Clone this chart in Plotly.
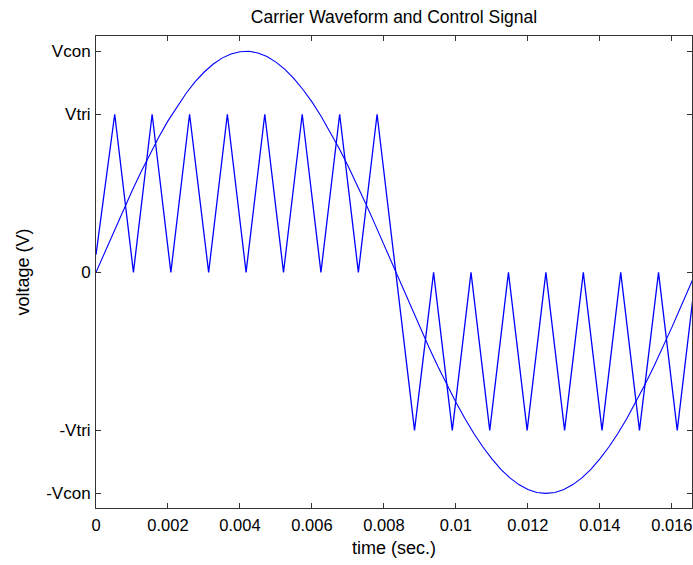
import plotly.graph_objects as go

# Levels (normalised so that Vcon = 1)
V_CON = 1.0
V_TRI = 0.715

sine_t = [i * 0.00025 for i in range(68)]
sine_v = [0.0, 0.094, 0.187, 0.279, 0.368, 0.454, 0.536, 0.613, 0.685, 0.750,
          0.809, 0.861, 0.905, 0.941, 0.969, 0.988, 0.998, 1.0, 0.992, 0.976,
          0.951, 0.918, 0.876, 0.827, 0.771, 0.707, 0.637, 0.562, 0.482, 0.397,
          0.309, 0.218, 0.125, 0.031, -0.063, -0.156, -0.249, -0.339, -0.426, -0.509,
          -0.588, -0.661, -0.729, -0.790, -0.844, -0.891, -0.930, -0.960, -0.982, -0.996,
          -1.0, -0.996, -0.982, -0.960, -0.930, -0.891, -0.844, -0.790, -0.729, -0.661,
          -0.588, -0.509, -0.426, -0.339, -0.249, -0.156, -0.063, 0.031]

# Carrier (triangle) vertices
tri_t = [0.0, 0.00052, 0.00104, 0.00156, 0.00208, 0.0026, 0.00313, 0.00365, 0.00417,
         0.00469, 0.00521, 0.00573, 0.00625, 0.00677, 0.00729, 0.00781, 0.00885,
         0.00938, 0.0099, 0.01042, 0.01094, 0.01146, 0.01198, 0.0125, 0.01302,
         0.01354, 0.01406, 0.01458, 0.0151, 0.01563, 0.01615, 0.01667]
tri_v = [0.08, 0.715, 0, 0.715, 0, 0.715, 0, 0.715, 0,
         0.715, 0, 0.715, 0, 0.715, 0, 0.715, -0.715,
         0, -0.715, 0, -0.715, 0, -0.715, 0, -0.715,
         0, -0.715, 0, -0.715, 0, -0.715, 0]

x_tickvals = [0, 0.002, 0.004, 0.006, 0.008, 0.010, 0.012, 0.014, 0.016]
x_ticktext = ["0", "0.002", "0.004", "0.006", "0.008", "0.01", "0.012", "0.014", "0.016"]
y_tickvals = [-V_CON, -V_TRI, 0, V_TRI, V_CON]
y_ticktext = ["-Vcon", "-Vtri", "0", "Vtri", "Vcon"]

FONT = "Liberation Sans, Arial, sans-serif"
AX = "#333333"

W, H = 693, 565

fig = go.Figure()
fig.add_trace(go.Scatter(x=tri_t, y=tri_v, mode="lines",
                         line=dict(color="#0000ff", width=1.3), showlegend=False))
fig.add_trace(go.Scatter(x=sine_t, y=sine_v, mode="lines",
                         line=dict(color="#0000ff", width=1.1), showlegend=False))

fig.update_layout(
    width=W, height=H,
    margin=dict(l=96, r=1, t=36, b=57, autoexpand=False),
    paper_bgcolor="white", plot_bgcolor="white",
    font=dict(family=FONT, size=17, color="black"),
    title=dict(text="Carrier Waveform and Control Signal", x=0.5, xref="paper",
               y=1 - 17 / H, yref="container", yanchor="middle", xanchor="center",
               font=dict(size=17.5), automargin=False),
)
fig.update_xaxes(
    range=[0, 0.01656], tickvals=x_tickvals, ticktext=x_ticktext,
    ticks="inside", ticklen=5, tickcolor=AX, showline=True, linecolor=AX, linewidth=1,
    mirror="ticks", showgrid=False, zeroline=False, automargin=False,
    ticklabelstandoff=2, tickfont=dict(size=16.5),
    title=dict(text="time (sec.)", standoff=8, font=dict(size=18)),
)
fig.update_yaxes(
    range=[-1.066, 1.069], tickvals=y_tickvals, ticktext=y_ticktext,
    ticks="inside", ticklen=5, tickcolor=AX, showline=True, linecolor=AX, linewidth=1,
    mirror="ticks", showgrid=False, zeroline=False, automargin=False,
    ticklabelstandoff=1,
    title=dict(text="voltage (V)", standoff=11, font=dict(size=18)),
)

# remove the default page margin so the figure sits at the window's top-left corner
fig.write_html(
    "out.html",
    config={"displayModeBar": False},
    post_script="document.body.style.margin='0';document.body.style.overflow='hidden';",
)
